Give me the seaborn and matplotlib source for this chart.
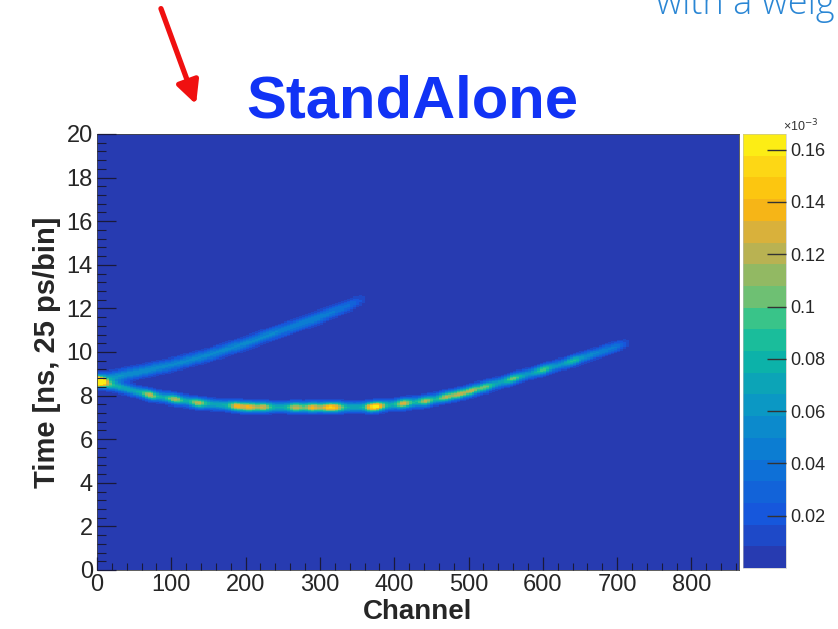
import numpy as np
import pandas as pd
import matplotlib
matplotlib.use("Agg")
import matplotlib.pyplot as plt
import seaborn as sns
from matplotlib.colors import ListedColormap, LinearSegmentedColormap
from matplotlib.patches import FancyArrowPatch
from matplotlib.ticker import MultipleLocator

# ---------------- data ----------------
# upper (direct) band: centre time [ns] vs channel
upper_ch = [0, 50, 100, 150, 200, 250, 300, 350, 362]
upper_t = [8.68, 9.04, 9.40, 9.86, 10.40, 11.00, 11.60, 12.30, 12.45]
upper_amp_ch = [0, 15, 100, 200, 300, 340, 368]
upper_amp = [0.12, 0.06, 0.052, 0.052, 0.048, 0.035, 0.0]

# lower (reflected) band
lower_ch = [0, 40, 71, 105, 136, 201, 290, 370, 443, 487, 523, 585, 652, 706, 714]
lower_t = [8.65, 8.30, 8.03, 7.84, 7.66, 7.48, 7.46, 7.48, 7.75, 8.07, 8.40, 9.03, 9.72, 10.32, 10.40]
lower_amp_ch = [0, 20, 100, 200, 300, 400, 500, 600, 660, 700, 720]
lower_amp = [0.15, 0.075, 0.07, 0.075, 0.075, 0.07, 0.068, 0.062, 0.055, 0.042, 0.0]

# bright (yellow) spots along the lower band
hot_ch = [71, 105, 136, 188, 205, 224, 268, 290, 310, 322, 370, 379, 413, 442, 469, 487, 504, 523, 560, 600, 640]
hot_amp = [0.05, 0.05, 0.05, 0.06, 0.06, 0.05, 0.05, 0.06, 0.06, 0.05, 0.06, 0.06, 0.06, 0.05, 0.05, 0.05, 0.05, 0.04, 0.04, 0.035, 0.03]

band_sigma = [0.19, 0.16]  # upper, lower (ns)

cbar_ticks = [0.02, 0.04, 0.06, 0.08, 0.10, 0.12, 0.14, 0.16]
cbar_ticklabels = ["0.02", "0.04", "0.06", "0.08", "0.1", "0.12", "0.14", "0.16"]
x_ticks = [0, 100, 200, 300, 400, 500, 600, 700, 800]
y_ticks = [0, 2, 4, 6, 8, 10, 12, 14, 16, 18, 20]

# ---------------- build the 2D histogram cells ----------------
ch_edges = np.arange(0, 865, 4.0)
t_edges = np.arange(0, 20.0001, 0.05)
chc = (ch_edges[:-1] + ch_edges[1:]) / 2
tc = (t_edges[:-1] + t_edges[1:]) / 2
CH, T = np.meshgrid(chc, tc, indexing="ij")

up_c = np.interp(CH, upper_ch, upper_t)
up_a = np.interp(CH, upper_amp_ch, upper_amp, right=0.0)
lo_c = np.interp(CH, lower_ch, lower_t)
lo_a = np.interp(CH, lower_amp_ch, lower_amp, right=0.0)
for hc, ha in zip(hot_ch, hot_amp):
    lo_a = lo_a + ha * np.exp(-0.5 * ((CH - hc) / 7.0) ** 2) * (CH < 718)

W = up_a * np.exp(-0.5 * ((T - up_c) / band_sigma[0]) ** 2) \
    + lo_a * np.exp(-0.5 * ((T - lo_c) / band_sigma[1]) ** 2)

df = pd.DataFrame({"ch": CH.ravel(), "t": T.ravel(), "w": W.ravel()})

# ---------------- colours (ROOT-like bird palette, 20 levels) ----------------
stops = [
    (0.00, "#2b35a6"), (0.12, "#1656dc"), (0.24, "#0d74d6"), (0.36, "#0b93c8"),
    (0.48, "#0cb4a8"), (0.56, "#24c492"), (0.60, "#58c47c"), (0.72, "#b6b254"),
    (0.80, "#e8b030"), (0.84, "#fcb80c"), (0.96, "#fde418"), (1.00, "#fafa10"),
]
base = LinearSegmentedColormap.from_list("bird", stops)
cmap = ListedColormap([base((i + 0.5) / 20) for i in range(20)])

# ---------------- figure ----------------
sns.set_theme(style="white")
plt.rcParams["font.family"] = ["Liberation Sans", "DejaVu Sans"]

fig = plt.figure(figsize=(8.38, 6.29), dpi=100)
ax = fig.add_axes([97 / 838, 59 / 629, 642 / 838, 436 / 629])
cax = fig.add_axes([743 / 838, 61 / 629, 43 / 838, 434 / 629])

sns.histplot(data=df, x="ch", y="t", weights="w", bins=[ch_edges, t_edges],
             cmap=cmap, vmin=0, vmax=0.166, thresh=None,
             cbar=True, cbar_ax=cax, ax=ax)

ax.set_axisbelow(False)
cax.set_axisbelow(False)
ax.set_xlim(0, 864)
ax.set_ylim(0, 20)
ax.set_xticks(x_ticks)
ax.set_yticks(y_ticks)
ax.xaxis.set_minor_locator(MultipleLocator(20))
ax.yaxis.set_minor_locator(MultipleLocator(0.4))
ax.tick_params(axis="x", which="major", direction="in", length=9.5, width=0.9,
               color="#1a1a3a", labelsize=17, pad=3, bottom=True)
ax.tick_params(axis="x", which="minor", direction="in", length=4.7, width=0.8,
               color="#1a1a3a", bottom=True)
ax.tick_params(axis="y", which="major", direction="in", length=13.5, width=0.9,
               color="#1a1a3a", labelsize=17, pad=3, left=True)
ax.tick_params(axis="y", which="minor", direction="in", length=6.8, width=0.8,
               color="#1a1a3a", left=True)
for s in ax.spines.values():
    s.set_linewidth(0.6)
    s.set_color("#444444")

ax.set_xlabel("Channel", fontsize=20, fontweight="bold", labelpad=2)
ax.set_ylabel("Time [ns, 25 ps/bin]", fontsize=21, fontweight="bold", labelpad=4)

cax.set_yticks(cbar_ticks)
cax.set_yticklabels(cbar_ticklabels)
cax.tick_params(axis="y", direction="in", length=14, width=1.0, color="#333333",
                labelsize=13, pad=3, right=True)
cax.yaxis.set_minor_locator(matplotlib.ticker.NullLocator())
for s in cax.spines.values():
    s.set_linewidth(0.4)
    s.set_color("#bbbbbb")
fig.text(783 / 838, 1 - 131 / 629, "×10$^{-3}$", fontsize=9, color="#333333",
         ha="left", va="baseline")

# title and annotations
fig.text(412 / 838, 1 - 118 / 629, "StandAlone", fontsize=43, fontweight="bold",
         color="#1133f5", ha="center", va="baseline")
fig.text(656 / 838, 1 - 14 / 629, "with a weig", fontsize=26, color="#2a86d4",
         ha="left", va="baseline", family=["Open Sans", "DejaVu Sans"], fontweight="light")
arrow = FancyArrowPatch((160 / 838, 1 - 6 / 629), (197 / 838, 1 - 107 / 629),
                        transform=fig.transFigure, arrowstyle="-|>",
                        mutation_scale=34, linewidth=3.8, color="#f01010")
fig.add_artist(arrow)

fig.savefig("out.png", dpi=100)
